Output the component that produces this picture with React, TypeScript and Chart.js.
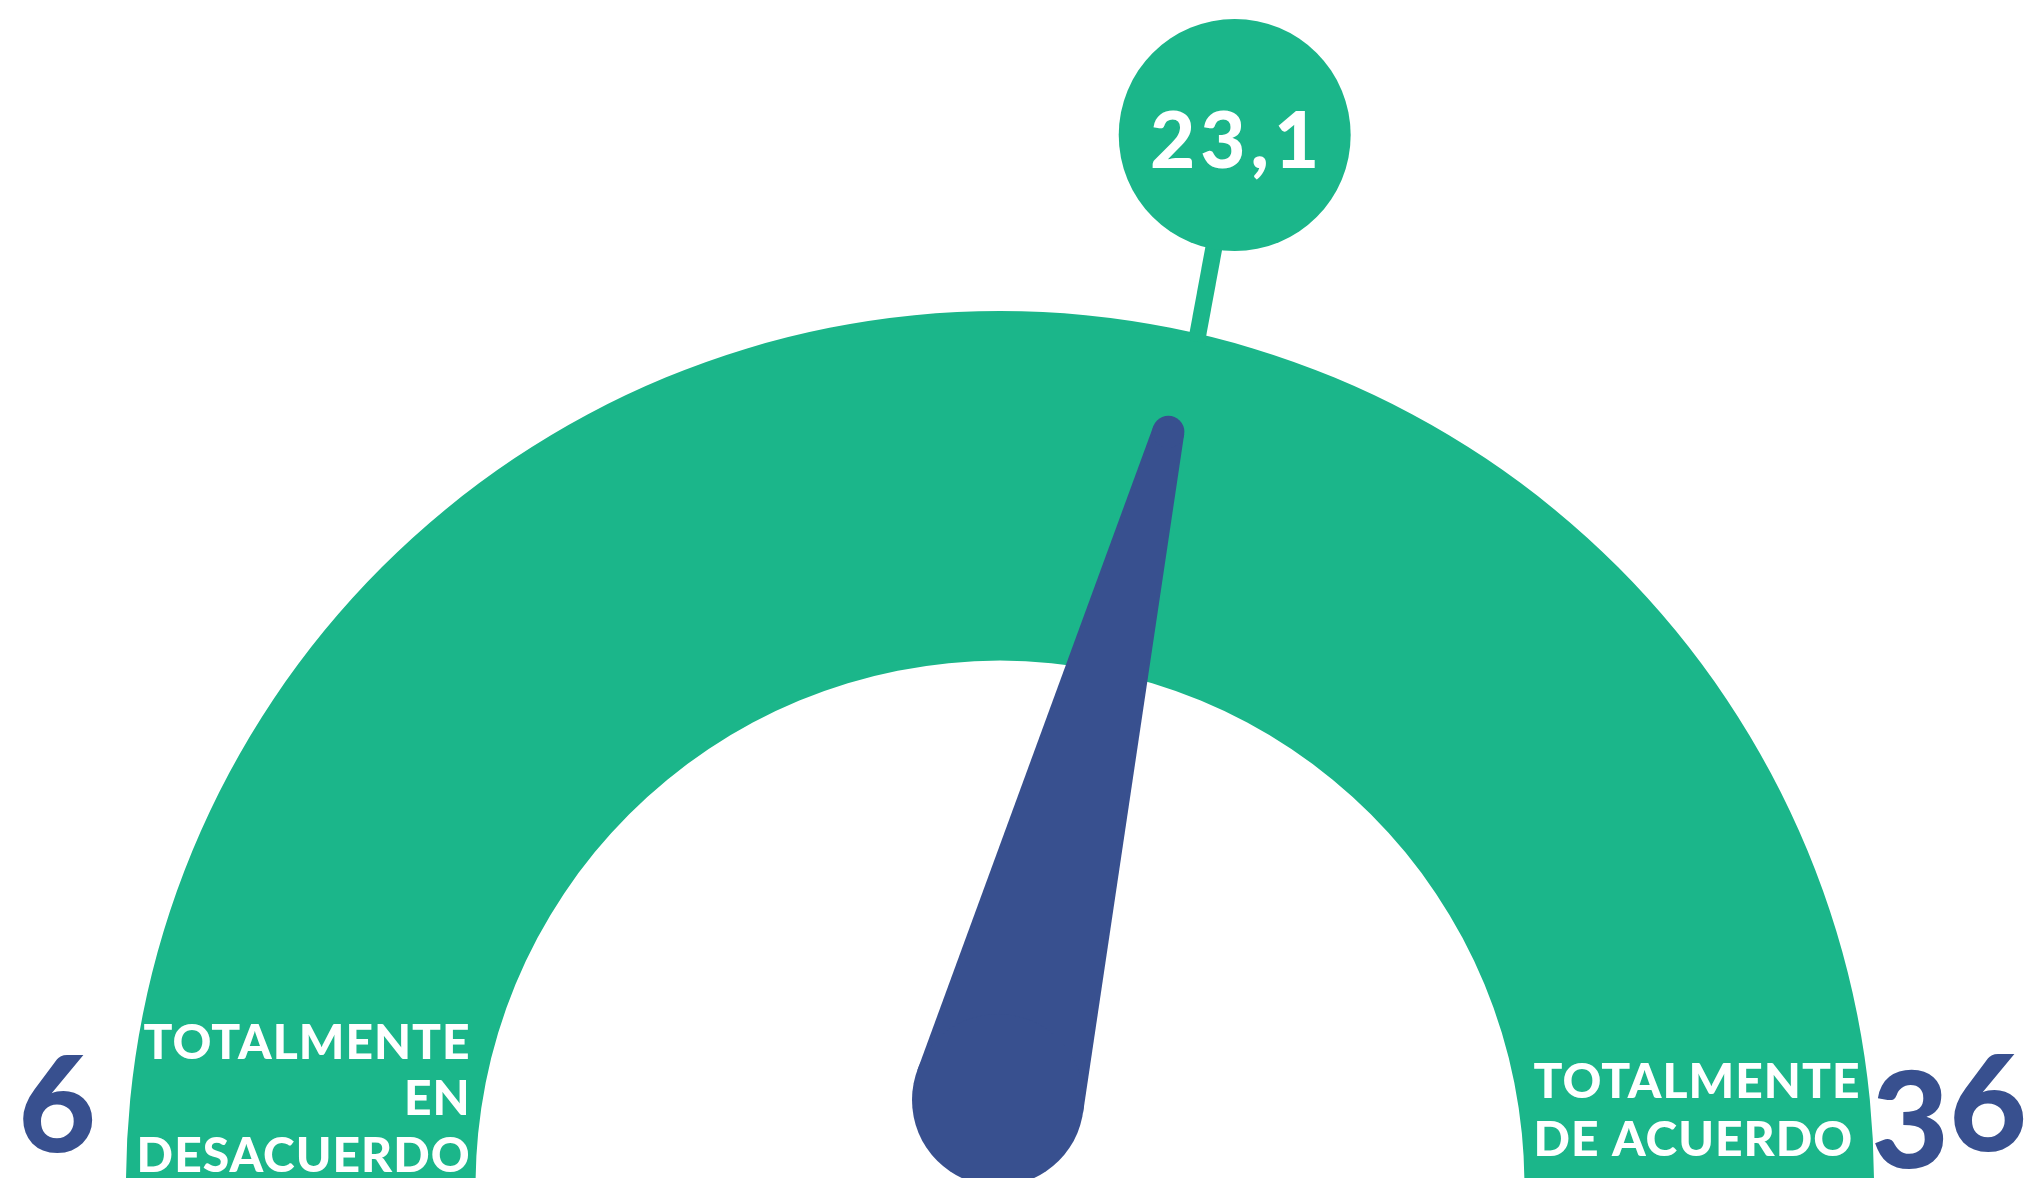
import React, { useEffect, useRef } from 'react';
import { Chart, registerables } from 'chart.js';

Chart.register(...registerables);

// ---- data ----
const SCALE_RANGE = [6, 36];
const SCORE = [23.1];
const SCORE_LABEL = ['23,1'];
const END_LABELS = ['6', '36'];
const LEFT_CAPTION = ['TOTALMENTE', 'EN', 'DESACUERDO'];
const RIGHT_CAPTION = ['TOTALMENTE', 'DE ACUERDO'];
const SEGMENT_LABELS = ['Escala'];

// ---- style ----
const GREEN = '#1BB68A';
const BLUE = '#38508F';
const CAPTION_FONT = 'Lato, "Noto Sans", sans-serif';
const NUMBER_FONT = 'Lato, "Noto Sans", sans-serif';

function drawSpaced(ctx: CanvasRenderingContext2D, text: string, x: number, y: number, align: 'left' | 'right' | 'center', spacing: number) {
  (ctx as any).letterSpacing = spacing + 'px';
  ctx.textAlign = 'left';
  const w = ctx.measureText(text).width - spacing;
  let sx = x;
  if (align === 'right') sx = x - w;
  if (align === 'center') sx = x - w / 2;
  ctx.fillText(text, sx, y);
  (ctx as any).letterSpacing = '0px';
}

const gaugePlugin = {
  id: 'gaugeOverlay',
  afterDatasetsDraw(chart: any) {
    const meta = chart.getDatasetMeta(0);
    const arc = meta.data[0];
    if (!arc) return;
    const { x, y, startAngle, endAngle, outerRadius, innerRadius } = arc.getProps(
      ['x', 'y', 'startAngle', 'endAngle', 'outerRadius', 'innerRadius'],
      true
    );
    const [min, max] = SCALE_RANGE;
    const frac = (SCORE[0] - min) / (max - min);
    const a = startAngle + frac * (endAngle - startAngle);
    const cos = Math.cos(a);
    const sin = Math.sin(a);
    const ctx: CanvasRenderingContext2D = chart.ctx;
    ctx.save();

    // callout stick + bubble
    const calloutDist = outerRadius * 1.231;
    const calloutR = outerRadius * 0.1327;
    const cx = x + cos * calloutDist;
    const cy = y + sin * calloutDist;
    ctx.strokeStyle = GREEN;
    ctx.lineWidth = 17;
    ctx.lineCap = 'butt';
    ctx.beginPath();
    ctx.moveTo(x + cos * (outerRadius - 10) + 8, y + sin * (outerRadius - 10));
    ctx.lineTo(cx, cy);
    ctx.stroke();
    ctx.fillStyle = GREEN;
    ctx.beginPath();
    ctx.arc(cx, cy, calloutR, 0, Math.PI * 2);
    ctx.fill();

    ctx.fillStyle = '#FFFFFF';
    ctx.font = `900 78px ${NUMBER_FONT}`;
    ctx.textBaseline = 'alphabetic';
    drawSpaced(ctx, SCORE_LABEL[0], cx, cy + 33, 'center', 5);

    // needle
    const tipDist = outerRadius * 0.883;
    const tx = x + cos * tipDist;
    const ty = y + sin * tipDist;
    const rT = 16;
    const bx = x - 2;
    const by = y - 85;
    const rB = 86;
    const dx = tx - bx;
    const dy = ty - by;
    const d = Math.hypot(dx, dy);
    const ux = dx / d;
    const uy = dy / d;
    const px = -uy;
    const py = ux;
    const ca = (rB - rT) / d;
    const sa = Math.sqrt(1 - ca * ca);
    const n1x = ux * ca + px * sa, n1y = uy * ca + py * sa;
    const n2x = ux * ca - px * sa, n2y = uy * ca - py * sa;
    ctx.fillStyle = BLUE;
    ctx.beginPath();
    ctx.moveTo(bx + rB * n1x, by + rB * n1y);
    ctx.lineTo(tx + rT * n1x, ty + rT * n1y);
    ctx.lineTo(tx + rT * n2x, ty + rT * n2y);
    ctx.lineTo(bx + rB * n2x, by + rB * n2y);
    ctx.closePath();
    ctx.fill();
    ctx.beginPath();
    ctx.arc(tx, ty, rT, 0, Math.PI * 2);
    ctx.fill();
    ctx.beginPath();
    ctx.arc(bx, by, rB, 0, Math.PI * 2);
    ctx.fill();

    // end values
    ctx.fillStyle = BLUE;
    ctx.font = `900 134px ${NUMBER_FONT}`;
    drawSpaced(ctx, END_LABELS[0], x - outerRadius - 69, y - 33, 'center', 0);
    const right = END_LABELS[1];
    drawSpaced(ctx, right[0], x + outerRadius + 36, y - 17, 'center', 0);
    drawSpaced(ctx, right.slice(1), x + outerRadius + 114, y - 34, 'center', 0);

    // captions
    ctx.fillStyle = '#FFFFFF';
    ctx.font = `900 48px ${CAPTION_FONT}`;
    const leftBase = [y - 126, y - 70, y - 13];
    LEFT_CAPTION.forEach((t, i) => drawSpaced(ctx, t, x - innerRadius - 6, leftBase[i], 'right', 1));
    const rightBase = [y - 87, y - 29];
    RIGHT_CAPTION.forEach((t, i) => drawSpaced(ctx, t, x + innerRadius + 9, rightBase[i], 'left', 1));

    ctx.restore();
  },
};

export default function App() {
  const ref = useRef<HTMLCanvasElement>(null);
  useEffect(() => {
    document.body.style.margin = '0';
    document.body.style.overflow = 'hidden';
    const canvas = ref.current;
    if (!canvas) return;
    const chart = new Chart(canvas, {
      type: 'doughnut',
      data: {
        labels: SEGMENT_LABELS,
        datasets: [
          {
            data: [SCALE_RANGE[1] - SCALE_RANGE[0]],
            backgroundColor: [GREEN],
            borderWidth: 0,
            clip: false,
          } as any,
        ],
      },
      options: {
        responsive: false,
        maintainAspectRatio: false,
        animation: false,
        devicePixelRatio: 1,
        rotation: -90,
        circumference: 180,
        cutout: '60%',
        radius: 874,
        events: [],
        layout: { padding: { top: 318, left: 0, right: 29, bottom: 0 } },
        plugins: { legend: { display: false }, tooltip: { enabled: false } },
      } as any,
      plugins: [gaugePlugin],
    });
    return () => chart.destroy();
  }, []);
  return (
    <div style={{ width: 2029, height: 1178, background: '#FFFFFF' }}>
      <canvas ref={ref} width={2029} height={1178} style={{ display: 'block', width: 2029, height: 1178 }} />
    </div>
  );
}
